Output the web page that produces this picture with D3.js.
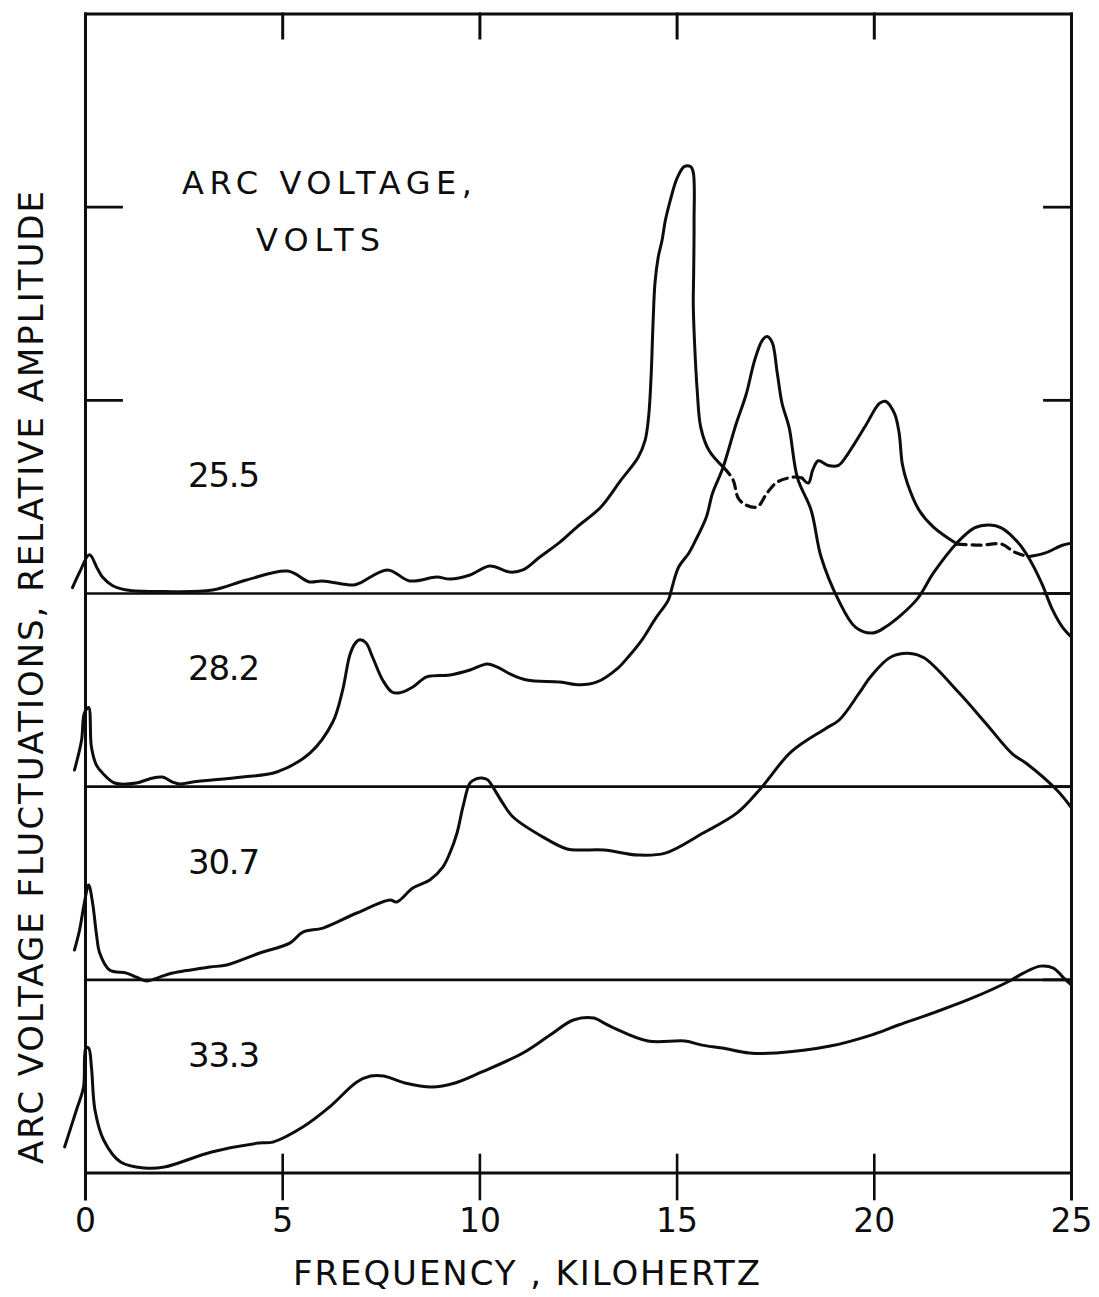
<!DOCTYPE html>
<html>
<head>
<meta charset="utf-8">
<script src="https://cdn.jsdelivr.net/npm/d3@7"></script>
<style>
  html, body { margin: 0; padding: 0; background: #fff; }
  svg { display: block; }
</style>
</head>
<body>
<svg id="chart" width="1099" height="1297"></svg>
<script>
// Frequency ticks (kHz) and frame tick levels (in baseline-spacing units)
const freqTicks = [0, 5, 10, 15, 20, 25];
const leftTickLevels = [4, 5];
const rightTickLevels = [1, 2, 3, 4, 5];

// Arc voltages, one spectrum each, stacked from the top down
const voltages = ["25.5", "28.2", "30.7", "33.3"];
const stackOffsets = [3, 2, 1, 0];

// Spectra: [frequency kHz, relative amplitude above own baseline]
const spectrum255 = [
  [-0.33, 0.03], [-0.15, 0.11], [0.10, 0.20], [0.30, 0.13], [0.43, 0.085], [0.69, 0.04],
  [1.04, 0.018], [2.0, 0.01], [3.22, 0.018], [4.08, 0.07], [5.13, 0.116], [5.68, 0.06],
  [6.0, 0.065], [6.78, 0.044], [6.95, 0.054], [7.66, 0.122], [8.22, 0.065], [8.91, 0.085],
  [9.24, 0.075], [9.75, 0.096], [10.25, 0.142], [10.76, 0.111], [11.09, 0.122], [11.52, 0.189],
  [12.03, 0.266], [12.46, 0.344], [13.07, 0.448], [13.58, 0.588], [14.01, 0.704], [14.19, 0.794],
  [14.28, 0.92], [14.34, 1.12], [14.39, 1.40], [14.44, 1.61], [14.52, 1.74], [14.62, 1.83],
  [14.70, 1.93], [14.82, 2.03], [15.0, 2.15], [15.18, 2.21], [15.34, 2.21], [15.41, 2.18],
  [15.43, 1.92], [15.42, 1.66], [15.41, 1.50], [15.44, 1.31], [15.51, 1.05], [15.60, 0.86],
  [15.81, 0.74], [16.19, 0.65],
  [16.42, 0.588], [16.55, 0.494], [16.75, 0.458], [17.03, 0.448], [17.28, 0.52], [17.54, 0.577],
  [17.97, 0.603], [18.17, 0.598],
  [18.33, 0.572], [18.44, 0.64], [18.58, 0.687], [18.83, 0.663], [19.09, 0.663], [19.34, 0.726],
  [19.77, 0.866], [20.13, 0.984], [20.28, 0.995], [20.51, 0.932], [20.63, 0.83], [20.71, 0.67],
  [20.84, 0.57], [21.14, 0.43], [21.5, 0.344], [22.1, 0.256],
  [22.69, 0.25], [23.22, 0.256], [23.55, 0.215], [23.9, 0.19],
  [24.34, 0.21], [24.77, 0.25], [25.0, 0.26]
];
// Stretches of the 25.5 V trace drawn broken
const dashedRanges255 = [[16.19, 18.17], [22.1, 23.9]];

const spectrum282 = [
  [-0.28, 0.086], [-0.10, 0.24], [-0.03, 0.38], [0.08, 0.41], [0.15, 0.205], [0.28, 0.11],
  [0.43, 0.071], [0.74, 0.019], [1.29, 0.019], [1.62, 0.040], [1.95, 0.050], [2.21, 0.024],
  [2.39, 0.014], [2.72, 0.024], [3.98, 0.050], [4.85, 0.076], [5.69, 0.174], [6.27, 0.335],
  [6.52, 0.50], [6.70, 0.68], [6.83, 0.74], [6.95, 0.76], [7.11, 0.745], [7.28, 0.67],
  [7.54, 0.55], [7.77, 0.49], [7.97, 0.486], [8.30, 0.516], [8.65, 0.568], [9.24, 0.578],
  [9.75, 0.604], [10.18, 0.635], [10.43, 0.62], [10.76, 0.584], [11.19, 0.552], [12.03, 0.542],
  [12.54, 0.527], [12.97, 0.542], [13.50, 0.614], [13.76, 0.671], [14.11, 0.76], [14.45, 0.87],
  [14.78, 0.967], [14.87, 1.03], [15.04, 1.137], [15.3, 1.21], [15.47, 1.276], [15.74, 1.395],
  [15.9, 1.52], [16.16, 1.65], [16.5, 1.88], [16.75, 2.03], [16.97, 2.21], [17.16, 2.31],
  [17.28, 2.33], [17.41, 2.30], [17.54, 2.14], [17.66, 1.985], [17.84, 1.86], [18.05, 1.60],
  [18.40, 1.43], [18.65, 1.19], [19.09, 0.967], [19.52, 0.826], [19.95, 0.795], [20.28, 0.826],
  [21.07, 0.967], [21.5, 1.107], [22.1, 1.263], [22.54, 1.34], [22.92, 1.355], [23.22, 1.34],
  [23.65, 1.263], [23.9, 1.19], [24.24, 1.055], [24.52, 0.915], [24.77, 0.826], [25.0, 0.774]
];

const spectrum307 = [
  [-0.28, 0.154], [-0.15, 0.258], [-0.03, 0.398], [0.08, 0.491], [0.18, 0.398], [0.28, 0.232],
  [0.36, 0.139], [0.61, 0.051], [1.04, 0.035], [1.29, 0.014], [1.55, -0.006], [1.88, 0.014],
  [2.21, 0.035], [3.15, 0.066], [3.58, 0.077], [4.42, 0.139], [5.18, 0.19], [5.51, 0.247],
  [6.02, 0.268], [6.88, 0.346], [7.72, 0.413], [7.89, 0.403], [8.30, 0.475], [8.73, 0.517],
  [9.06, 0.584], [9.24, 0.657], [9.42, 0.76], [9.57, 0.895], [9.75, 1.02], [9.9, 1.04],
  [10.05, 1.045], [10.2, 1.035], [10.33, 0.998], [10.58, 0.915], [10.84, 0.843], [11.6, 0.739],
  [12.21, 0.677], [12.54, 0.672], [13.15, 0.672], [14.01, 0.646], [14.7, 0.656], [15.66, 0.76],
  [16.52, 0.864], [17.13, 0.993], [17.89, 1.18], [18.76, 1.30], [19.11, 1.345], [19.62, 1.485],
  [19.9, 1.568], [20.41, 1.67], [20.91, 1.69], [21.27, 1.666], [22.13, 1.49], [22.82, 1.33],
  [23.5, 1.17], [23.86, 1.12], [24.64, 0.98], [25.0, 0.89]
];

const spectrum333 = [
  [-0.53, 0.135], [-0.23, 0.326], [-0.05, 0.445], [0.01, 0.647], [0.08, 0.647], [0.15, 0.549],
  [0.24, 0.326], [0.46, 0.171], [0.89, 0.057], [1.49, 0.026], [2.0, 0.031], [3.2, 0.109],
  [4.39, 0.155], [4.75, 0.16], [5.51, 0.238], [6.19, 0.342], [6.88, 0.471], [7.23, 0.502],
  [7.56, 0.502], [8.1, 0.466], [8.78, 0.445], [9.37, 0.466], [10.05, 0.523], [11.09, 0.621],
  [11.78, 0.714], [12.37, 0.792], [12.89, 0.802], [13.15, 0.776], [13.4, 0.75], [14.26, 0.683],
  [15.2, 0.683], [15.63, 0.662], [16.14, 0.647], [16.83, 0.621], [17.51, 0.621], [18.88, 0.657],
  [19.92, 0.714], [20.61, 0.766], [21.55, 0.833], [22.49, 0.906], [23.43, 0.994], [23.78, 1.035],
  [24.21, 1.071], [24.54, 1.061], [24.8, 1.01], [25.0, 0.973]
];

const spectra = [spectrum255, spectrum282, spectrum307, spectrum333];
const dashedRanges = [dashedRanges255, [], [], []];

const svg = d3.select("#chart");
const ink = "#0d0d0d";

const x = d3.scaleLinear().domain([0, 25]).range([85.5, 1071.5]);
const y = d3.scaleLinear().domain([0, 6]).range([1173, 14]);

const frame = svg.append("g")
  .attr("stroke", ink).attr("fill", "none").attr("stroke-linecap", "square");

// Outer frame, with the side lines running down past the frequency axis
frame.append("line").attr("x1", x(0)).attr("x2", x(25)).attr("y1", y(6)).attr("y2", y(6)).attr("stroke-width", 3);
frame.append("line").attr("x1", x(0)).attr("x2", x(0)).attr("y1", y(6)).attr("y2", y(0) + 26).attr("stroke-width", 3);
frame.append("line").attr("x1", x(25)).attr("x2", x(25)).attr("y1", y(6)).attr("y2", y(0) + 26).attr("stroke-width", 3);

// Baselines of the four stacked spectra (the lowest is the frequency axis)
frame.selectAll("line.base").data(stackOffsets).join("line")
  .attr("class", "base")
  .attr("x1", x(0)).attr("x2", x(25))
  .attr("y1", d => y(d)).attr("y2", d => y(d))
  .attr("stroke-width", d => d === 0 ? 3 : 2.6);

// Frequency ticks crossing the axis
frame.selectAll("line.xtick").data(freqTicks.filter(d => d > 0 && d < 25)).join("line")
  .attr("class", "xtick")
  .attr("x1", d => x(d)).attr("x2", d => x(d))
  .attr("y1", y(0) - 18).attr("y2", y(0) + 26)
  .attr("stroke-width", 2.6);

// Ticks hanging from the top edge
frame.selectAll("line.ttick").data(freqTicks.filter(d => d > 0 && d < 25)).join("line")
  .attr("class", "ttick")
  .attr("x1", d => x(d)).attr("x2", d => x(d))
  .attr("y1", y(6)).attr("y2", y(6) + 24)
  .attr("stroke-width", 3);

// Side ticks
frame.selectAll("line.ltick").data(leftTickLevels).join("line")
  .attr("class", "ltick")
  .attr("x1", x(0)).attr("x2", x(0) + 36)
  .attr("y1", d => y(d)).attr("y2", d => y(d))
  .attr("stroke-width", 2.8);
frame.selectAll("line.rtick").data(rightTickLevels).join("line")
  .attr("class", "rtick")
  .attr("x1", x(25) - 27).attr("x2", x(25))
  .attr("y1", d => y(d)).attr("y2", d => y(d))
  .attr("stroke-width", 2.8);

// Split a trace into solid and broken stretches
function splitTrace(data, ranges) {
  const cuts = ranges.flat().map(f => data.findIndex(p => p[0] === f));
  const pieces = [];
  let start = 0, dashed = false;
  cuts.forEach(ci => {
    pieces.push({ pts: data.slice(start, ci + 1), dashed });
    start = ci;
    dashed = !dashed;
  });
  pieces.push({ pts: data.slice(start), dashed });
  return pieces;
}

const traces = svg.append("g").attr("fill", "none").attr("stroke", ink)
  .attr("stroke-linejoin", "round").attr("stroke-linecap", "round");

spectra.forEach((data, i) => {
  const off = stackOffsets[i];
  const line = d3.line()
    .x(d => x(d[0]))
    .y(d => y(off + d[1]))
    .curve(d3.curveCatmullRom.alpha(0.5));
  splitTrace(data, dashedRanges[i]).forEach(piece => {
    traces.append("path")
      .attr("d", line(piece.pts))
      .attr("stroke-width", piece.dashed ? 3.2 : 3)
      .attr("stroke-dasharray", piece.dashed ? "9,6" : null);
  });
});

const font = "'DejaVu Sans', 'Liberation Sans', sans-serif";

// Voltage labels beside each spectrum
svg.selectAll("text.volt").data(voltages).join("text")
  .attr("class", "volt")
  .attr("x", x(2.6))
  .attr("y", (d, i) => y(stackOffsets[i] + 0.55))
  .attr("font-family", font).attr("font-size", 34)
  .attr("textLength", 72).attr("lengthAdjust", "spacing")
  .attr("fill", ink)
  .text(d => d);

// Legend heading
svg.append("text").attr("x", 182).attr("y", 194)
  .attr("font-family", font).attr("font-size", 32)
  .attr("textLength", 290).attr("lengthAdjust", "spacing")
  .attr("fill", ink).text("ARC VOLTAGE,");
svg.append("text").attr("x", 256).attr("y", 251)
  .attr("font-family", font).attr("font-size", 32)
  .attr("textLength", 124).attr("lengthAdjust", "spacing")
  .attr("fill", ink).text("VOLTS");

// Frequency tick labels
svg.selectAll("text.xlab").data(freqTicks).join("text")
  .attr("class", "xlab")
  .attr("x", d => x(d)).attr("y", 1232)
  .attr("text-anchor", "middle")
  .attr("font-family", font).attr("font-size", 33)
  .attr("fill", ink)
  .text(d => d);

// Axis titles
svg.append("text").attr("x", 293).attr("y", 1285)
  .attr("font-family", font).attr("font-size", 34)
  .attr("textLength", 467).attr("lengthAdjust", "spacing")
  .attr("fill", ink).text("FREQUENCY , KILOHERTZ");

svg.append("text")
  .attr("transform", "translate(43,1164) rotate(-90)")
  .attr("font-family", font).attr("font-size", 34)
  .attr("textLength", 973).attr("lengthAdjust", "spacing")
  .attr("fill", ink).text("ARC VOLTAGE FLUCTUATIONS, RELATIVE AMPLITUDE");
</script>
</body>
</html>
